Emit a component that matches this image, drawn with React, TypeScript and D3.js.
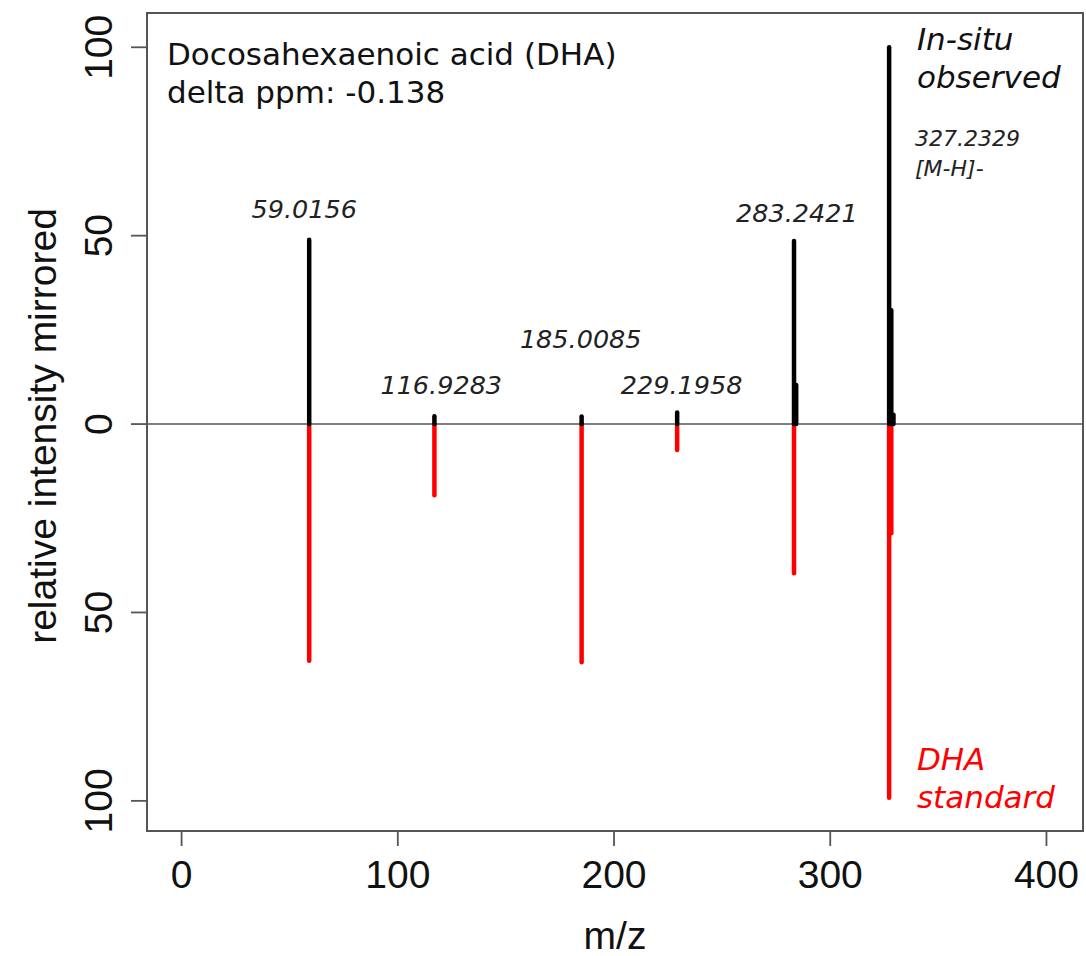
import React from "react";
import * as d3 from "d3";

// m/z peaks, in-situ observed (positive side)
const observedMz = [59.0156, 116.9283, 185.0085, 229.1958, 283.2421, 284.245, 327.2329, 328.236, 329.24];
const observedInt = [48.9, 2.1, 2.0, 3.1, 48.6, 10.4, 100, 30.2, 2.5];

// m/z peaks, DHA standard (mirrored, drawn downward)
const standardMz = [59.0156, 116.9283, 185.0085, 229.1958, 283.2421, 327.2329, 328.236];
const standardInt = [62.8, 18.9, 63.2, 6.9, 39.6, 99.2, 29.0];

// peak annotations: text + anchor in data units
const peakLabels = ["59.0156", "116.9283", "185.0085", "229.1958", "283.2421"];
const peakLabelMz = [56.7, 120.1, 184.6, 231.3, 284.6];
const peakLabelInt = [54.6, 8.1, 20.1, 8.1, 53.6];

const xTicks = [0, 100, 200, 300, 400];
const yTicks = [100, 50, 0, -50, -100];

const W = 1086;
const H = 956;
const box = { left: 147, right: 1083, top: 13, bottom: 831 };

const AXIS_FONT = "'Liberation Sans', Arial, Helvetica, sans-serif";
const NOTE_FONT = "'DejaVu Sans', Verdana, sans-serif";

export default function App() {
  const x = d3.scaleLinear().domain([-16.0, 416.9]).range([box.left, box.right]);
  const y = d3.scaleLinear().domain([-108.0, 109.1]).range([box.bottom, box.top]);

  const obs = observedMz.map((mz, i) => ({ mz, v: observedInt[i] }));
  const std = standardMz.map((mz, i) => ({ mz, v: -standardInt[i] }));

  return (
    <div style={{ position: "absolute", left: 0, top: 0 }}>
      <svg width={W} height={H} style={{ display: "block", background: "#fff" }}>
        {/* zero line */}
        <line x1={box.left} x2={box.right} y1={y(0)} y2={y(0)} stroke="#555" strokeWidth={1.6} />

        {/* standard (red, down) */}
        {std.map((d, i) => (
          <line
            key={"s" + i}
            x1={x(d.mz)}
            x2={x(d.mz)}
            y1={y(0)}
            y2={y(d.v)}
            stroke="#ff0000"
            strokeWidth={4.5}
            strokeLinecap="round"
          />
        ))}

        {/* observed (black, up) */}
        {obs.map((d, i) => (
          <line
            key={"o" + i}
            x1={x(d.mz)}
            x2={x(d.mz)}
            y1={y(0)}
            y2={y(d.v)}
            stroke="#000"
            strokeWidth={4.5}
            strokeLinecap="round"
          />
        ))}

        {/* plot box */}
        <rect
          x={box.left}
          y={box.top}
          width={box.right - box.left}
          height={box.bottom - box.top}
          fill="none"
          stroke="#555"
          strokeWidth={2}
        />

        {/* x axis */}
        {xTicks.map((t) => (
          <g key={"xt" + t}>
            <line x1={x(t)} x2={x(t)} y1={box.bottom} y2={box.bottom + 15} stroke="#555" strokeWidth={1.8} />
            <text
              x={x(t)}
              y={888}
              textAnchor="middle"
              fontFamily={AXIS_FONT}
              fontSize={39}
              fill="#111"
            >
              {t}
            </text>
          </g>
        ))}
        <text x={(box.left + box.right) / 2} y={949} textAnchor="middle" fontFamily={AXIS_FONT} fontSize={39} fill="#111">
          m/z
        </text>

        {/* y axis */}
        {yTicks.map((t) => (
          <g key={"yt" + t}>
            <line x1={box.left - 16} x2={box.left} y1={y(t)} y2={y(t)} stroke="#555" strokeWidth={1.8} />
            <text
              transform={`translate(112,${y(t)}) rotate(-90)`}
              textAnchor="middle"
              fontFamily={AXIS_FONT}
              fontSize={39}
              fill="#111"
            >
              {Math.abs(t)}
            </text>
          </g>
        ))}
        <text
          transform={`translate(56,${(box.top + box.bottom) / 2 + 4}) rotate(-90)`}
          textAnchor="middle"
          fontFamily={AXIS_FONT}
          fontSize={39}
          fill="#111"
        >
          relative intensity mirrored
        </text>

        {/* peak labels */}
        {peakLabels.map((lab, i) => (
          <text
            key={"pl" + i}
            x={x(peakLabelMz[i])}
            y={y(peakLabelInt[i])}
            textAnchor="middle"
            fontFamily={NOTE_FONT}
            fontStyle="italic"
            fontSize={25.5}
            fill="#222"
          >
            {lab}
          </text>
        ))}
        <text x={x(339.2)} y={y(73.8)} fontFamily={NOTE_FONT} fontStyle="italic" fontSize={22} fill="#222">
          327.2329
        </text>
        <text x={x(339.2)} y={y(65.8)} fontFamily={NOTE_FONT} fontStyle="italic" fontSize={22} fill="#222">
          [M-H]-
        </text>

        {/* title */}
        <text x={167} y={65} fontFamily={NOTE_FONT} fontSize={31} fill="#111">
          Docosahexaenoic acid (DHA)
        </text>
        <text x={167} y={103} fontFamily={NOTE_FONT} fontSize={31} fill="#111">
          delta ppm: -0.138
        </text>

        {/* series notes */}
        <text x={x(340.1)} y={50} fontFamily={NOTE_FONT} fontStyle="italic" fontSize={31} fill="#111">
          In-situ
        </text>
        <text x={x(340.1)} y={88} fontFamily={NOTE_FONT} fontStyle="italic" fontSize={31} fill="#111">
          observed
        </text>
        <text x={x(340.1)} y={770} fontFamily={NOTE_FONT} fontStyle="italic" fontSize={31} fill="#ff0000">
          DHA
        </text>
        <text x={x(340.1)} y={808} fontFamily={NOTE_FONT} fontStyle="italic" fontSize={31} fill="#ff0000">
          standard
        </text>
      </svg>
    </div>
  );
}
